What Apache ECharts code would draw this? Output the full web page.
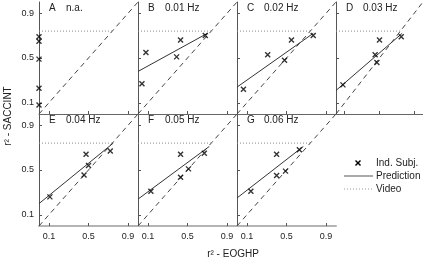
<!DOCTYPE html>
<html>
<head>
<meta charset="utf-8">
<script src="https://cdn.jsdelivr.net/npm/echarts@6/dist/echarts.min.js"></script>
<style>
html,body{margin:0;padding:0;background:#fff;}
#chart{width:423px;height:260px;}
</style>
</head>
<body>
<div id="chart"></div>
<script>
// ---- data ----
var panelLetters = ['A', 'B', 'C', 'D', 'E', 'F', 'G'];
var panelLabels = ['n.a.', '0.01 Hz', '0.02 Hz', '0.03 Hz', '0.04 Hz', '0.05 Hz', '0.06 Hz'];
var tickValues = [0.1, 0.5, 0.9];
var tickLabels = ['0.1', '0.5', '0.9'];

// individual subjects: x = r2 EOGHP, y = r2 SACCINT
var subjX_A = [0.0, 0.0, 0.0, 0.0, 0.0];
var subjY_A = [0.69, 0.65, 0.49, 0.23, 0.08];
var subjX_B = [0.08, 0.43, 0.39, 0.68, 0.04];
var subjY_B = [0.55, 0.66, 0.51, 0.70, 0.27];
var subjX_C = [0.065, 0.31, 0.55, 0.77, 0.48];
var subjY_C = [0.22, 0.53, 0.66, 0.70, 0.48];
var subjX_D = [0.08, 0.50, 0.45, 0.47, 0.75];
var subjY_D = [0.26, 0.66, 0.53, 0.46, 0.69];
var subjX_E = [0.11, 0.475, 0.50, 0.455, 0.72];
var subjY_E = [0.26, 0.64, 0.54, 0.455, 0.67];
var subjX_F = [0.13, 0.43, 0.43, 0.51, 0.67];
var subjY_F = [0.31, 0.64, 0.435, 0.51, 0.65];
var subjX_G = [0.14, 0.40, 0.40, 0.49, 0.63];
var subjY_G = [0.31, 0.64, 0.45, 0.49, 0.68];

// prediction lines (start / end points), none for A
var predX_B = [0, 0.70], predY_B = [0.38, 0.72];
var predX_C = [0, 0.77], predY_C = [0.24, 0.72];
var predX_D = [0, 0.76], predY_D = [0.21, 0.72];
var predX_E = [0, 0.75], predY_E = [0.20, 0.74];
var predX_F = [0, 0.72], predY_F = [0.24, 0.71];
var predX_G = [0, 0.67], predY_G = [0.25, 0.71];

// video level
var videoLevel = 0.74;
// identity line
var identX = [0, 1], identY = [0, 1];

var subjX = [subjX_A, subjX_B, subjX_C, subjX_D, subjX_E, subjX_F, subjX_G];
var subjY = [subjY_A, subjY_B, subjY_C, subjY_D, subjY_E, subjY_F, subjY_G];
var predX = [null, predX_B, predX_C, predX_D, predX_E, predX_F, predX_G];
var predY = [null, predY_B, predY_C, predY_D, predY_E, predY_F, predY_G];

function pairs(xs, ys) { return xs.map(function (x, i) { return [x, ys[i]]; }); }

// ---- layout ----
var FONT = '"Liberation Sans", Arial, Helvetica, sans-serif';
var colLeft = [39, 138, 237, 336];
var rowTop = [2, 114];
var PW = 99, PH = 112;
var panelPos = [[0,0],[1,0],[2,0],[3,0],[0,1],[1,1],[2,1]];

var grids = [], xAxes = [], yAxes = [], series = [], graphics = [];
var crossPath = 'path://M0,0L10,10M0,10L10,0';

function fmt(v) { var k = tickValues.indexOf(Math.round(v * 10) / 10); return k >= 0 ? tickLabels[k] : ''; }

panelPos.forEach(function (p, i) {
  var bottomRow = p[1] === 1;
  var leftCol = p[0] === 0;
  grids.push({ left: colLeft[p[0]], top: rowTop[p[1]], width: PW, height: PH, containLabel: false });
  xAxes.push({
    gridIndex: i, type: 'value', min: 0, max: 1,
    axisLine: { show: true, onZero: false, lineStyle: bottomRow ? { color: '#b4b4b4', width: 2 } : { color: '#666', width: 1 } },
    axisTick: { show: true, inside: true, length: 3, customValues: tickValues, lineStyle: { color: '#555' } },
    axisLabel: { show: bottomRow, customValues: tickValues, margin: 6, fontSize: 9, color: '#222', fontFamily: FONT, formatter: fmt },
    splitLine: { show: false }
  });
  yAxes.push({
    gridIndex: i, type: 'value', min: 0, max: 1,
    axisLine: { show: true, onZero: false, lineStyle: { color: '#555', width: 1 } },
    axisTick: { show: true, inside: true, length: 3, customValues: tickValues, lineStyle: { color: '#555' } },
    axisLabel: { show: leftCol, customValues: tickValues, margin: 5, fontSize: 9, color: '#222', fontFamily: FONT, formatter: fmt },
    splitLine: { show: false }
  });
  // identity (dashed)
  series.push({ type: 'line', xAxisIndex: i, yAxisIndex: i, data: pairs(identX, identY), symbol: 'none', silent: true,
    lineStyle: { color: '#444', width: 1, type: [5, 4] }, z: 2 });
  // video (dotted)
  series.push({ type: 'line', xAxisIndex: i, yAxisIndex: i, data: [[0, videoLevel], [videoLevel, videoLevel]], symbol: 'none', silent: true,
    lineStyle: { color: '#888', width: 1, type: [1, 2] }, z: 2 });
  // prediction
  if (predX[i]) {
    series.push({ type: 'line', xAxisIndex: i, yAxisIndex: i, data: pairs(predX[i], predY[i]), symbol: 'none', silent: true,
      lineStyle: { color: '#333', width: 1 }, z: 3 });
  }
  // subjects
  series.push({ type: 'scatter', xAxisIndex: i, yAxisIndex: i, data: pairs(subjX[i], subjY[i]), symbol: crossPath, symbolSize: 5,
    clip: false, itemStyle: { color: 'rgba(0,0,0,0)', borderColor: '#000', borderWidth: 1.4 }, z: 4 });
  // panel labels
  graphics.push({ type: 'text', x: colLeft[p[0]] + 10, y: rowTop[p[1]] + 6,
    style: { text: panelLetters[i], font: '10px ' + FONT, fill: '#222', verticalAlign: 'middle' } });
  graphics.push({ type: 'text', x: colLeft[p[0]] + 27, y: rowTop[p[1]] + 6,
    style: { text: panelLabels[i], font: '10px ' + FONT, fill: '#222', verticalAlign: 'middle' } });
});

// axis titles
graphics.push({ type: 'text', x: 233, y: 254, style: { text: 'r² - EOGHP', font: '10px ' + FONT, fill: '#222', align: 'center', verticalAlign: 'middle' } });
graphics.push({ type: 'text', x: 8, y: 116, rotation: Math.PI / 2, style: { text: 'r² - SACCINT', font: '10px ' + FONT, fill: '#222', align: 'center', verticalAlign: 'middle' } });

// legend
graphics.push({ type: 'line', shape: { x1: 355.5, y1: 160.5, x2: 360.5, y2: 165.5 }, style: { stroke: '#000', lineWidth: 1.4 } });
graphics.push({ type: 'line', shape: { x1: 355.5, y1: 165.5, x2: 360.5, y2: 160.5 }, style: { stroke: '#000', lineWidth: 1.4 } });
graphics.push({ type: 'text', x: 376, y: 163, style: { text: 'Ind. Subj.', font: '10px ' + FONT, fill: '#222', verticalAlign: 'middle' } });
graphics.push({ type: 'line', shape: { x1: 344, y1: 176, x2: 373, y2: 176 }, style: { stroke: '#aaa', lineWidth: 2 } });
graphics.push({ type: 'text', x: 376, y: 176, style: { text: 'Prediction', font: '10px ' + FONT, fill: '#222', verticalAlign: 'middle' } });
graphics.push({ type: 'line', shape: { x1: 344, y1: 189, x2: 373, y2: 189 }, style: { stroke: '#999', lineWidth: 1, lineDash: [1, 2] } });
graphics.push({ type: 'text', x: 376, y: 189, style: { text: 'Video', font: '10px ' + FONT, fill: '#222', verticalAlign: 'middle' } });

var chart = echarts.init(document.getElementById('chart'), null, { renderer: 'canvas' });
chart.setOption({
  animation: false,
  backgroundColor: '#fff',
  grid: grids,
  xAxis: xAxes,
  yAxis: yAxes,
  series: series,
  graphic: graphics
});
</script>
</body>
</html>
